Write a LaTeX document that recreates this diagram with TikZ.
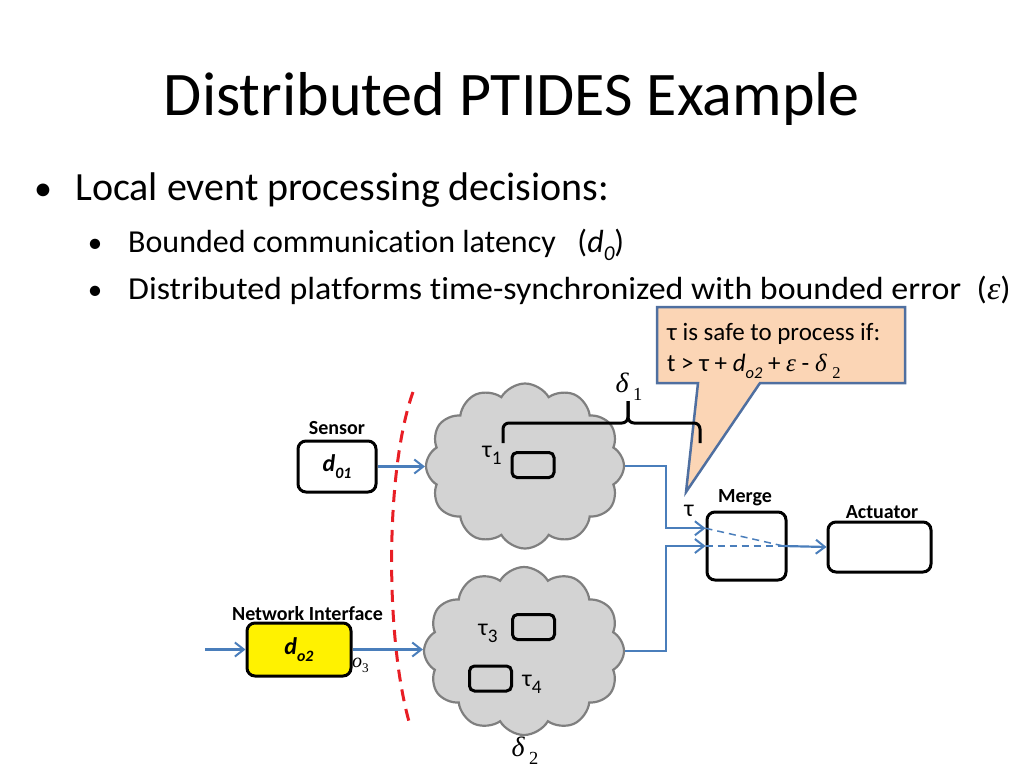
\documentclass[tikz,border=0pt]{standalone}
\usepackage{fontspec}
\setmainfont{Carlito}[Ligatures={NoCommon,NoContextual}]
\newfontfamily\serif{Liberation Serif}
\usetikzlibrary{arrows.meta,shapes.symbols,calc}
\definecolor{arrowblue}{HTML}{4A7EBB}
\definecolor{peach}{HTML}{FBD5B5}
\definecolor{calloutblue}{HTML}{4F6FA0}
\definecolor{cloudgray}{HTML}{D3D3D3}
\definecolor{cloudedge}{HTML}{7F7F7F}
\definecolor{dashred}{HTML}{E81E25}
\newcommand{\fs}[1]{\fontsize{#1}{#1}\selectfont}
\newcommand{\lsub}[1]{\raisebox{-0.28em}{\scalebox{0.66}{#1}}}
\newcommand{\tsub}[1]{\raisebox{-0.3em}{\scalebox{0.8}{#1}}}
\begin{document}
\begin{tikzpicture}[x=1pt,y=-1pt,
  box/.style={draw=black, line width=3pt, rounded corners=8pt, inner sep=0},
  lbl/.style={font=\fs{20}\bfseries, inner sep=0},
  flow/.style={draw=arrowblue, line width=2.2pt, -{Straight Barb[length=9pt,width=14pt,line width=2pt]}},
  cloudy/.style={cloud, cloud puffs=12, cloud puff arc=120, aspect=1.2, draw=cloudedge, fill=cloudgray, line width=2.2pt, inner sep=0},
  task/.style={draw=black, line width=3pt, rounded corners=5pt, minimum width=42pt, minimum height=25pt, inner sep=0},
  txt/.style={inner sep=0, anchor=base west},
]
\useasboundingbox (0,0) rectangle (1024,768);
% title and bullets
\node[anchor=base, inner sep=0, font=\fs{62}] (title) at (512,115) {Distributed PTIDES Example};
\node[anchor=base, inner sep=0, font=\fs{36}] (b1) at (43,200) {•};
\node[txt, font=\fs{40}] (t1) at (75,200) {Local event processing decisions:};
\node[anchor=base, inner sep=0, font=\fs{29}] (b2) at (95,252) {•};
\node[txt, font=\fs{32}] (t2) at (128,252) {Bounded communication latency\ \ \ (\textit{d\lsub{0}})};
\node[anchor=base, inner sep=0, font=\fs{29}] (b3) at (95,299) {•};
\node[txt, font=\fs{32}] (t3) at (128,299) {\scalebox{1.06}[1]{Distributed platforms time-synchronized with bounded error\ \ ({\serif\itshape ε})}};
% clouds
\node[cloudy, minimum width=198pt, minimum height=165pt] (cloud1) at (525,466) {};
\node[cloudy, minimum width=200pt, minimum height=168pt] (cloud2) at (524,651) {};
% tasks
\node[task] (t1box) at (533,465) {};
\node[task] (t3box) at (533.5,627) {};
\node[task] (t4box) at (490.5,678.5) {};
\node[inner sep=0, font=\fs{24}] (tau1) at (492,455) {τ\tsub{1}};
\node[inner sep=0, font=\fs{24}] (tau3) at (488,633) {τ\tsub{3}};
\node[inner sep=0, font=\fs{24}] (tau4) at (532,684) {τ\tsub{4}};
% callout
\path[draw=calloutblue, fill=peach, line width=2.5pt, line join=miter] (657,307) -- (905,307) -- (905,383) -- (760,383) -- (686,492) -- (698,383) -- (657,383) -- cycle;
\node[txt, font=\fs{25}] (c1) at (667,340) {τ is safe to process if:};
\node[txt, font=\fs{25}] (c2) at (667,371) {t > τ + \textit{d\lsub{o2}} + {\serif\itshape ε} - {\serif\itshape δ} {\serif\lsub{2}}};
% brace
\draw[line width=3pt, rounded corners=6pt] (503,443) -- (503,423) -- (628,423) -- (628,401);
\draw[line width=3pt, rounded corners=6pt] (628,401) -- (628,423) -- (700,423) -- (700,443);
\node[inner sep=0, font=\fs{28}] (delta1) at (629,387) {\serif\itshape δ\,\lsub{\upshape 1}};
\node[inner sep=0, font=\fs{28}] (delta2) at (525,751) {\serif\itshape δ\,\lsub{\upshape 2}};
% boxes
\node[box, minimum width=78pt, minimum height=51pt] (sensor) at (337,466.5) {\fs{24}\bfseries\itshape d\lsub{01}};
\node[lbl, anchor=base] (sensorlbl) at (337,434) {Sensor};
\node[box, fill=yellow, minimum width=104pt, minimum height=53pt] (ni) at (299,649.5) {\fs{24}\bfseries\itshape d\lsub{o2}};
\node[lbl, anchor=base] (nilbl) at (307.5,620) {Network Interface};
\node[txt] (o3) at (352,667) {\fs{20}\serif\itshape o\lsub{\upshape 3}};
\node[box, minimum width=79pt, minimum height=68pt] (merge) at (746.5,546) {};
\node[lbl, anchor=base] (mergelbl) at (745,502) {Merge};
\node[box, minimum width=103pt, minimum height=50pt] (act) at (879.5,547) {};
\node[lbl, anchor=base] (actlbl) at (882,518) {Actuator};
\node[inner sep=0, font=\fs{24}] (tau) at (689,511) {τ};
% red dashed boundary
\draw[dashred, line width=3pt, dash pattern=on 12pt off 8pt] (413,392) .. controls (385,470) and (385,640) .. (410,725);
% connectors
\coordinate (inA) at (205,649.5);
\coordinate (jx) at (666,0);
\coordinate (m1) at ($(merge.north west)!0.25!(merge.south west)$);
\coordinate (mx) at ($(merge.east)+(-4,0)$);
\draw[flow] (inA) -- (ni.west);
\draw[flow] (ni.east) -- (ni.east -| cloud2.west);
\draw[flow] (sensor.east) -- (sensor.east -| cloud1.west);
\draw[flow] (cloud1.east) -- (cloud1.east -| jx) |- (m1);
\draw[flow] (cloud2.east) -- (cloud2.east -| jx) |- (merge.west);
\draw[arrowblue, line width=1.5pt, dash pattern=on 7pt off 5pt] (m1) -- (mx);
\draw[arrowblue, line width=1.5pt, dash pattern=on 7pt off 5pt] (merge.west) -- (mx);
\draw[flow] (mx) -- (act.west);
\end{tikzpicture}
\end{document}
